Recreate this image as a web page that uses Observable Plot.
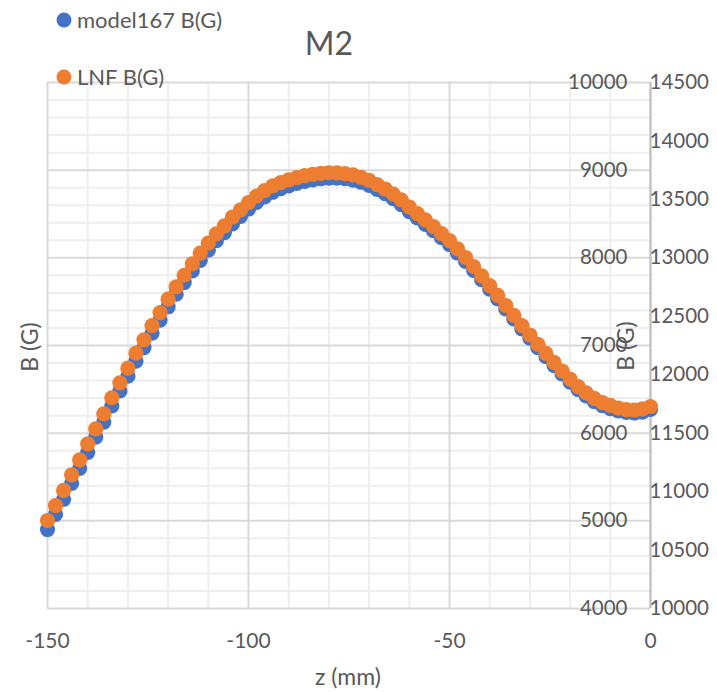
<!DOCTYPE html>
<html><head><meta charset="utf-8">
<script src="https://cdn.jsdelivr.net/npm/d3@7"></script>
<script src="https://cdn.jsdelivr.net/npm/@observablehq/plot@0.6"></script>
<style>
body{margin:0;background:#fff;}
#wrap{width:717px;height:692px;}
</style></head><body><div id="wrap"></div>
<script>
const z = [-150,-148,-146,-144,-142,-140,-138,-136,-134,-132,
  -130,-128,-126,-124,-122,-120,-118,-116,-114,-112,
  -110,-108,-106,-104,-102,-100,-98,-96,-94,-92,
  -90,-88,-86,-84,-82,-80,-78,-76,-74,-72,
  -70,-68,-66,-64,-62,-60,-58,-56,-54,-52,
  -50,-48,-46,-44,-42,-40,-38,-36,-34,-32,
  -30,-28,-26,-24,-22,-20,-18,-16,-14,-12,
  -10,-8,-6,-4,-2,0];
const model167 = [4901,5073,5246,5426,5598,5782,5954,6126,6310,6482,
  6650,6822,6976,7140,7290,7442,7585,7718,7850,7972,
  8087,8195,8288,8387,8472,8557,8632,8696,8748,8789,
  8821,8849,8873,8890,8902,8910,8910,8903,8887,8862,
  8827,8781,8731,8675,8607,8528,8455,8382,8309,8230,
  8152,8055,7959,7858,7750,7644,7531,7417,7304,7190,
  7083,6975,6873,6771,6675,6583,6498,6424,6361,6315,
  6281,6253,6236,6230,6241,6270];
const lnf = [10753,10881,11010,11144,11272,11409,11537,11666,11803,11931,
  12056,12184,12299,12421,12532,12646,12752,12851,12949,13040,
  13125,13206,13274,13348,13411,13473,13529,13576,13615,13644,
  13668,13687,13704,13715,13723,13728,13727,13721,13709,13689,
  13662,13627,13589,13546,13495,13435,13379,13324,13268,13208,
  13148,13076,13003,12926,12845,12763,12678,12592,12507,12421,
  12340,12259,12182,12105,12032,11963,11899,11844,11797,11762,
  11737,11715,11702,11698,11707,11728];
const xTicks = [-150,-100,-50,0];
const xMinor = [-140,-130,-120,-110,-90,-80,-70,-60,-40,-30,-20,-10];
const yTicksPrimary = [4000,5000,6000,7000,8000,9000,10000];
const yMinor = [4200,4400,4600,4800,5200,5400,5600,5800,6200,6400,6600,6800,7200,7400,7600,7800,8200,8400,8600,8800,9200,9400,9600,9800];
const yTicksSecondary = [10000,10500,11000,11500,12000,12500,13000,13500,14000,14500];
const seriesNames = ["model167 B(G)","LNF B(G)"];
const colors = ["#4472C4","#ED7D31"];
const title = "M2";
const xLabel = "z (mm)";
const yLabel = "B (G)";
const y2Label = "B (G)";

const rows = z.map((v,i)=>({z:v, model:model167[i], lnf:lnf[i]}));
const toPrimary = v => 4000 + (v - 10000) * 6000 / 4500;
const txt = "#595959";
const font = "Lato, 'Open Sans', sans-serif";

const plot = Plot.plot({
  width: 717, height: 692,
  marginLeft: 47, marginRight: 67, marginTop: 82, marginBottom: 84,
  x: {domain: [-150, 0], axis: null},
  y: {domain: [4000, 10000], axis: null},
  style: {fontFamily: font, fontSize: "20px", color: txt, background: "white"},
  marks: [
    Plot.ruleX(xMinor, {stroke: "#EEEEEE", strokeWidth: 2}),
    Plot.ruleY(yMinor, {stroke: "#EEEEEE", strokeWidth: 2}),
    Plot.ruleX(xTicks, {stroke: "#D9D9D9", strokeWidth: 2}),
    Plot.ruleY(yTicksPrimary, {stroke: "#D9D9D9", strokeWidth: 2}),
    Plot.ruleX([0], {stroke: "#BFBFBF", strokeWidth: 2}),
    Plot.dot(rows, {x: "z", y: "model", r: 7.6, fill: colors[0], stroke: "none"}),
    Plot.dot(rows, {x: "z", y: d => toPrimary(d.lnf), r: 7.6, fill: colors[1], stroke: "none"}),
    Plot.text(yTicksPrimary, {x: () => 0, y: d => d, text: d => String(d), textAnchor: "end", dx: -23, fill: txt, fontSize: 20.5}),
    Plot.text(yTicksSecondary, {x: () => 0, y: d => toPrimary(d), text: d => String(d), textAnchor: "start", dx: -1, fill: txt, fontSize: 20.5}),
    Plot.text(xTicks, {x: d => d, y: () => 4000, text: d => String(d), dy: 33, fill: txt, fontSize: 21})
  ]
});
document.getElementById("wrap").appendChild(plot);

const svg = d3.select(plot);
const g = svg.append("g").attr("font-family", font).attr("fill", txt);
g.append("text").attr("x", 329).attr("y", 55).attr("text-anchor", "middle").attr("font-size", 32).text(title);
g.append("text").attr("x", 348).attr("y", 685).attr("text-anchor", "middle").attr("font-size", 23).text(xLabel);
g.append("text").attr("transform", "translate(38,347) rotate(-90)").attr("text-anchor", "middle").attr("font-size", 23).text(yLabel);
g.append("text").attr("transform", "translate(634,346) rotate(-90)").attr("text-anchor", "middle").attr("font-size", 23).text(y2Label);
const legY = [20, 77];
seriesNames.forEach((name, i) => {
  g.append("circle").attr("cx", 64).attr("cy", legY[i]).attr("r", 7.5).attr("fill", colors[i]);
  g.append("text").attr("x", 77).attr("y", legY[i] + 8).attr("text-anchor", "start").attr("font-size", 22).text(name);
});
</script></body></html>
